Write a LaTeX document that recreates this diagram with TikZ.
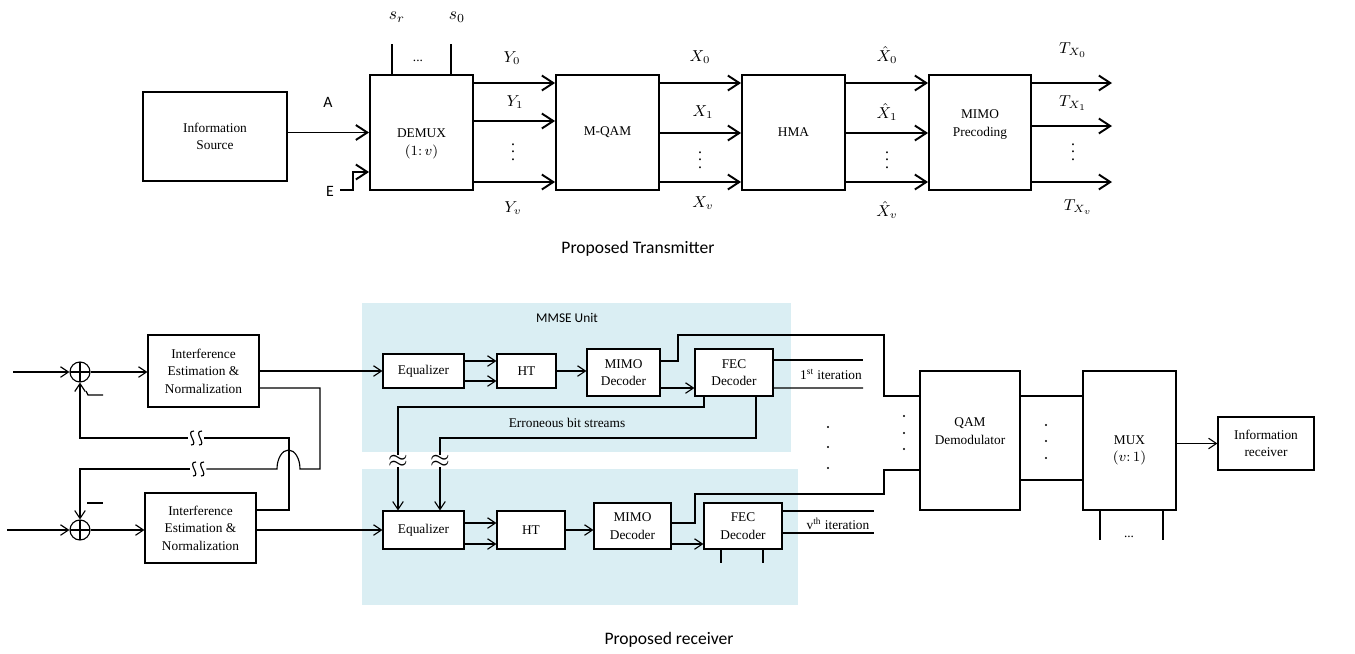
\documentclass[tikz,border=0pt]{standalone}
\usepackage{fontspec}
\setmainfont{Liberation Serif}
\newfontfamily\capfont{Carlito}
\usepackage{tikz}
\usetikzlibrary{arrows.meta,positioning,calc}

\definecolor{mmseblue}{RGB}{218,238,243}

\tikzset{
  txline/.style={line width=1.1pt},
  txarrow/.style={line width=1.1pt,-{Straight Barb[length=6.5pt,width=8.5pt]}},
  rxline/.style={line width=0.65pt},
  rxarrow/.style={line width=0.65pt,-{Straight Barb[length=4.5pt,width=6pt]}},
  blk/.style={draw,fill=white,line width=0.65pt,align=center,inner sep=1pt,font=\fontsize{7.6}{10}\selectfont},
  txblk/.style={blk,line width=1.1pt},
  sumnode/.style={circle,draw,fill=white,line width=0.65pt,minimum size=0.4cm,inner sep=0pt,
    path picture={\draw[line width=0.65pt] (path picture bounding box.north) -- (path picture bounding box.south)
      (path picture bounding box.west) -- (path picture bounding box.east);}},
  lbl/.style={font=\fontsize{7.6}{9}\selectfont,inner sep=0pt},
  mlbl/.style={font=\fontsize{9}{10}\selectfont,inner sep=0pt},
  sflbl/.style={font=\capfont\fontsize{9}{10}\selectfont,inner sep=0pt},
  caption/.style={font=\capfont\fontsize{10}{12}\selectfont,inner sep=0pt},
  vbrk/.style={inner sep=0pt,font=\fontsize{15}{15}\selectfont},
  hbrk/.style={inner sep=0pt,minimum width=0.32cm,minimum height=0.1cm}
}

\begin{document}
\begin{tikzpicture}[x=0.02cm,y=-0.02cm]
\useasboundingbox (0,0) rectangle (1355,653);

% ---------------- transmitter ----------------
\node[txblk,minimum width=2.88cm,minimum height=1.78cm] (src) at (215,136.5) {Information\\Source};
\node[txblk,minimum width=2.06cm,minimum height=2.3cm] (demux) at (421.5,132.5) {\\[8pt]DEMUX\\$(1{:}\,v)$};
\node[txblk,minimum width=2.06cm,minimum height=2.3cm] (mqam) at (607.5,132.5) {M-QAM};
\node[txblk,minimum width=2.06cm,minimum height=2.3cm] (hma) at (793.5,132.5) {HMA};
\node[txblk,minimum width=2.04cm,minimum height=2.3cm] (prec) at (980,132.5) {MIMO\\Precoding\\[1pt]};

% inputs A and E
\node[sflbl] (lblA) at (328,102) {A};
\node[sflbl] (lblE) at (330,191) {E};
\draw[txarrow] (src.east |- demux.west) -- (demux.west);
\coordinate (ein) at (demux.west |- 0,172);
\draw[txarrow] (340,190) -- (353,190) |- (ein);

% select lines on top of the demux
\foreach \xx in {392,451}
  \draw[txline] (demux.north -| \xx,0) -- (\xx,44);
\node[mlbl,font=\fontsize{10}{10}\selectfont] (sr) at (397,17) {$s_r$};
\node[mlbl,font=\fontsize{10}{10}\selectfont] (s0) at (457,17) {$s_0$};
\node[lbl] (sdots) at (418,61) {...};

% parallel streams
\foreach \yy in {83,121,182}
  \draw[txarrow] (demux.east |- 0,\yy) -- (mqam.west |- 0,\yy);
\foreach \yy in {83,133,182}
  \draw[txarrow] (mqam.east |- 0,\yy) -- (hma.west |- 0,\yy);
\foreach \yy in {83,133,182}
  \draw[txarrow] (hma.east |- 0,\yy) -- (prec.west |- 0,\yy);
\coordinate (txout) at (1112,0);
\foreach \yy in {83,126,182}
  \draw[txarrow] (prec.east |- 0,\yy) -- (txout |- 0,\yy);

\node[mlbl] (y0) at (512,58) {$Y_0$};
\node[mlbl] (y1) at (515,102) {$Y_1$};
\node[mlbl] (yd) at (513,147) {$\vdots$};
\node[mlbl] (yv) at (513,208) {$Y_v$};
\node[mlbl] (x0) at (700,57) {$X_0$};
\node[mlbl] (x1) at (703,112) {$X_1$};
\node[mlbl] (xd) at (700,155) {$\vdots$};
\node[mlbl] (xv) at (703,203) {$X_v$};
\node[mlbl] (h0) at (887,55) {$\hat{X}_0$};
\node[mlbl] (h1) at (887,112) {$\hat{X}_1$};
\node[mlbl] (hd) at (887,155) {$\vdots$};
\node[mlbl] (hv) at (887,210) {$\hat{X}_v$};
\node[mlbl] (t0) at (1073,50) {$T_{X_0}$};
\node[mlbl] (t1) at (1073,103) {$T_{X_1}$};
\node[mlbl] (td) at (1073,147) {$\vdots$};
\node[mlbl] (tv) at (1078,207) {$T_{X_v}$};

\node[caption] (txcap) at (638,249) {Proposed Transmitter};

% ---------------- receiver ----------------
\fill[mmseblue] (362,303) rectangle (791,452);
\fill[mmseblue] (362,469) rectangle (798,605);
\node[lbl,font=\capfont\fontsize{7.6}{9}\selectfont] (mmse) at (567,318) {MMSE Unit};

\node[sumnode] (sum1) at (80,372) {};
\node[sumnode] (sum2) at (80,530) {};
\node[blk,minimum width=2.22cm,minimum height=1.44cm] (ien1) at (203.5,371) {Interference\\Estimation \&\\Normalization};
\node[blk,minimum width=2.22cm,minimum height=1.40cm] (ien2) at (200.5,528) {Interference\\Estimation \&\\Normalization};

\node[blk,minimum width=1.62cm,minimum height=0.68cm] (eq1) at (423.5,371) {Equalizer};
\node[blk,minimum width=1.18cm,minimum height=0.68cm] (ht1) at (526.5,371) {HT};
\node[blk,minimum width=1.46cm,minimum height=0.94cm] (mimo1) at (623.5,372.5) {MIMO\\Decoder};
\node[blk,minimum width=1.56cm,minimum height=0.94cm] (fec1) at (734,372.5) {FEC\\Decoder};

\node[blk,minimum width=1.62cm,minimum height=0.76cm] (eq2) at (423.5,530) {Equalizer};
\node[blk,minimum width=1.36cm,minimum height=0.76cm] (ht2) at (531,530) {HT};
\node[blk,minimum width=1.54cm,minimum height=0.92cm] (mimo2) at (632.5,526) {MIMO\\Decoder};
\node[blk,minimum width=1.56cm,minimum height=0.92cm] (fec2) at (743,526) {FEC\\Decoder};

\node[blk,minimum width=2.0cm,minimum height=2.78cm] (qam) at (970,440.5) {QAM\\Demodulator\\[1pt]};
\node[blk,minimum width=1.86cm,minimum height=2.78cm] (mux) at (1129.5,440.5) {\\[6pt]MUX\\$(v{:}\,1)$};
\node[blk,minimum width=1.92cm,minimum height=1.06cm] (rcv) at (1266,443.5) {Information\\receiver};

% front end
\coordinate (in1) at (13,372);
\coordinate (in2) at (7,530);
\draw[rxarrow] (in1) -- (sum1.west);
\draw[rxarrow] (in2) -- (sum2.west);
\draw[rxarrow] (sum1.east) -- (sum1.east -| ien1.west);
\draw[rxarrow] (sum2.east) -- (sum2.east -| ien2.west);
\draw[rxarrow] (ien1.east) -- (eq1.west);
\draw[rxarrow] (ien2.east |- eq2.west) -- (eq2.west);

% cross feedback between the two branches
\node[hbrk] (brk3) at (196,438) {};
\node[hbrk] (brk4) at (198,469) {};
\foreach \brk in {brk3,brk4}
  \foreach \dx in {-4,4}
    \draw[rxline] ($(\brk)+(\dx+2,-7)$) .. controls ($(\brk)+(\dx-8,-7)$) and ($(\brk)+(\dx+8,7)$) .. ($(\brk)+(\dx-1,7)$);
\draw[rxline] (ien2.east |- 0,510) -| (289,438) -- (brk3);
\draw[rxarrow] (brk3) -- (sum1 |- 0,438) -- (sum1.south);
\draw[rxline] (ien1.east |- 0,388) -| (320,469) -- (300,469)
  arc[start angle=0,end angle=180,x radius=0.23cm,y radius=0.38cm] -- (brk4);
\draw[rxarrow] (brk4) -- (sum2 |- 0,469) -- (sum2.north);
\draw[rxline] (86,391) -- (88,395) -- (103,395);
\draw[rxline] (87,503) -- (103,503);

% MMSE chain
\foreach \dy in {-10,10}
  \draw[rxarrow] ($(eq1.east)+(0,\dy)$) -- ($(ht1.west)+(0,\dy)$);
\foreach \dy in {-7,14}
  \draw[rxarrow] ($(eq2.east)+(0,\dy)$) -- ($(ht2.west)+(0,\dy)$);
\draw[rxarrow] (ht1.east) -- (ht1.east -| mimo1.west);
\draw[rxarrow] (ht2.east) -- (ht2.east -| mimo2.west);
\draw[rxarrow] ($(mimo1.east)+(0,15.5)$) -- ($(fec1.west)+(0,15.5)$);
\draw[rxarrow] ($(mimo2.east)+(0,18)$) -- ($(fec2.west)+(0,18)$);

% MIMO decoder outputs to the demodulator
\draw[rxline] ($(mimo1.east)+(0,-11.5)$) -- (678,361) |- (884,335) |- ($(qam.west)+(0,-44.5)$);
\draw[rxline] ($(mimo2.east)+(0,-3)$) -- (695,523) |- (884,494) |- ($(qam.west)+(0,29.5)$);

% iteration outputs
\coordinate (it1) at (863,0);
\coordinate (it2) at (874,0);
\foreach \dy in {-12.5,15.5}
  \draw[rxline] ($(fec1.east)+(0,\dy)$) -- (it1 |- 0,372.5+\dy);
\foreach \dy in {-15,7}
  \draw[rxline] ($(fec2.east)+(0,\dy)$) -- (it2 |- 0,526+\dy);
\node[lbl] (iter1) at (831,374) {1\textsuperscript{st} iteration};
\node[lbl] (iter2) at (838,524) {v\textsuperscript{th} iteration};

% erroneous bit streams fed back
\node[vbrk] (brk1) at (398,461) {$\approx$};
\node[vbrk] (brk2) at (440,461) {$\approx$};
\draw[rxline] (fec1.south -| 704,0) |- (398,407) -- (brk1);
\draw[rxarrow] (brk1) -- (eq2.north -| brk1);
\draw[rxline] (fec1.south -| 756,0) |- (440,438) -- (brk2);
\draw[rxarrow] (brk2) -- (eq2.north -| brk2);
\node[lbl] (errbits) at (567,423) {Erroneous bit streams};
\foreach \xx in {721,763}
  \draw[rxline] (fec2.south -| \xx,0) -- (\xx,563);

% demodulator, mux and sink
\foreach \yy in {396,480}
  \draw[rxline] (qam.east |- 0,\yy) -- (mux.west |- 0,\yy);
\draw[rxarrow] (mux.east |- rcv.west) -- (rcv.west);
\foreach \xx in {1100,1163}
  \draw[rxline] (mux.south -| \xx,0) -- (\xx,540);
\node[lbl] (muxdots) at (1129,537) {...};

% vertical dots
\foreach \xx/\ya/\yb/\yc in {828/427/447/468, 904/416/433/449, 1046/425/441/458}
  \foreach \yy in {\ya,\yb,\yc}
    \fill (\xx,\yy) circle[radius=1.2];

\node[caption] (rxcap) at (669,640) {Proposed receiver};
\end{tikzpicture}
\end{document}
